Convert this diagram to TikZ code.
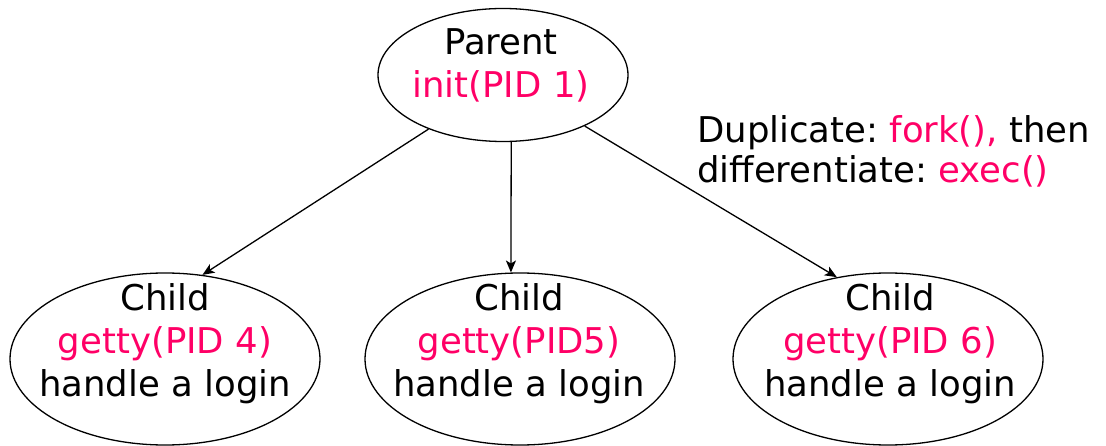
\documentclass[tikz,border=0pt]{standalone}
\usepackage{fontspec}
\setmainfont{DejaVu Sans}
\frenchspacing
\usetikzlibrary{shapes.geometric,arrows.meta}
\definecolor{pinkred}{RGB}{255,0,102}
\begin{document}
\begin{tikzpicture}[x=1pt,y=-1pt,
  proc/.style={ellipse,draw,line width=1.3pt,inner sep=0pt},
  kid/.style={proc,minimum width=310pt,minimum height=172pt},
  lbl/.style={align=center,inner sep=0pt,font=\fontsize{35.5}{43}\selectfont},
  arr/.style={line width=1.3pt,-{Stealth[length=12pt,width=10pt,inset=3pt]}}]
\useasboundingbox (0,0) rectangle (1106,446);
\node[proc,minimum width=250pt,minimum height=133pt] (p) at (503,75) {};
\node[kid] (c1) at (165,359) {};
\node[kid] (c2) at (520,359) {};
\node[kid] (c3) at (888,359) {};
\node[lbl] (pt) at (501,65.5) {Parent\\\textcolor{pinkred}{init(PID 1)}};
\node[lbl] (c1t) at (165,343.5) {Child\\\textcolor{pinkred}{getty(PID 4)}\\handle a login};
\node[lbl] (c2t) at (519,343.5) {Child\\\textcolor{pinkred}{getty(PID5)}\\handle a login};
\node[lbl] (c3t) at (890,343.5) {Child\\\textcolor{pinkred}{getty(PID 6)}\\handle a login};
\node[lbl,align=left,anchor=north west,font=\fontsize{35.5}{40}\selectfont] (note) at (697,115)
  {Duplicate: \textcolor{pinkred}{fork(),} then\\differentiate: \textcolor{pinkred}{exec()}};
\draw[arr] (p.216) -- (c1.66);
\draw[arr] (p.-83) -- (c2.96);
\draw[arr] (p.328) -- (c3.122);
\end{tikzpicture}
\end{document}
